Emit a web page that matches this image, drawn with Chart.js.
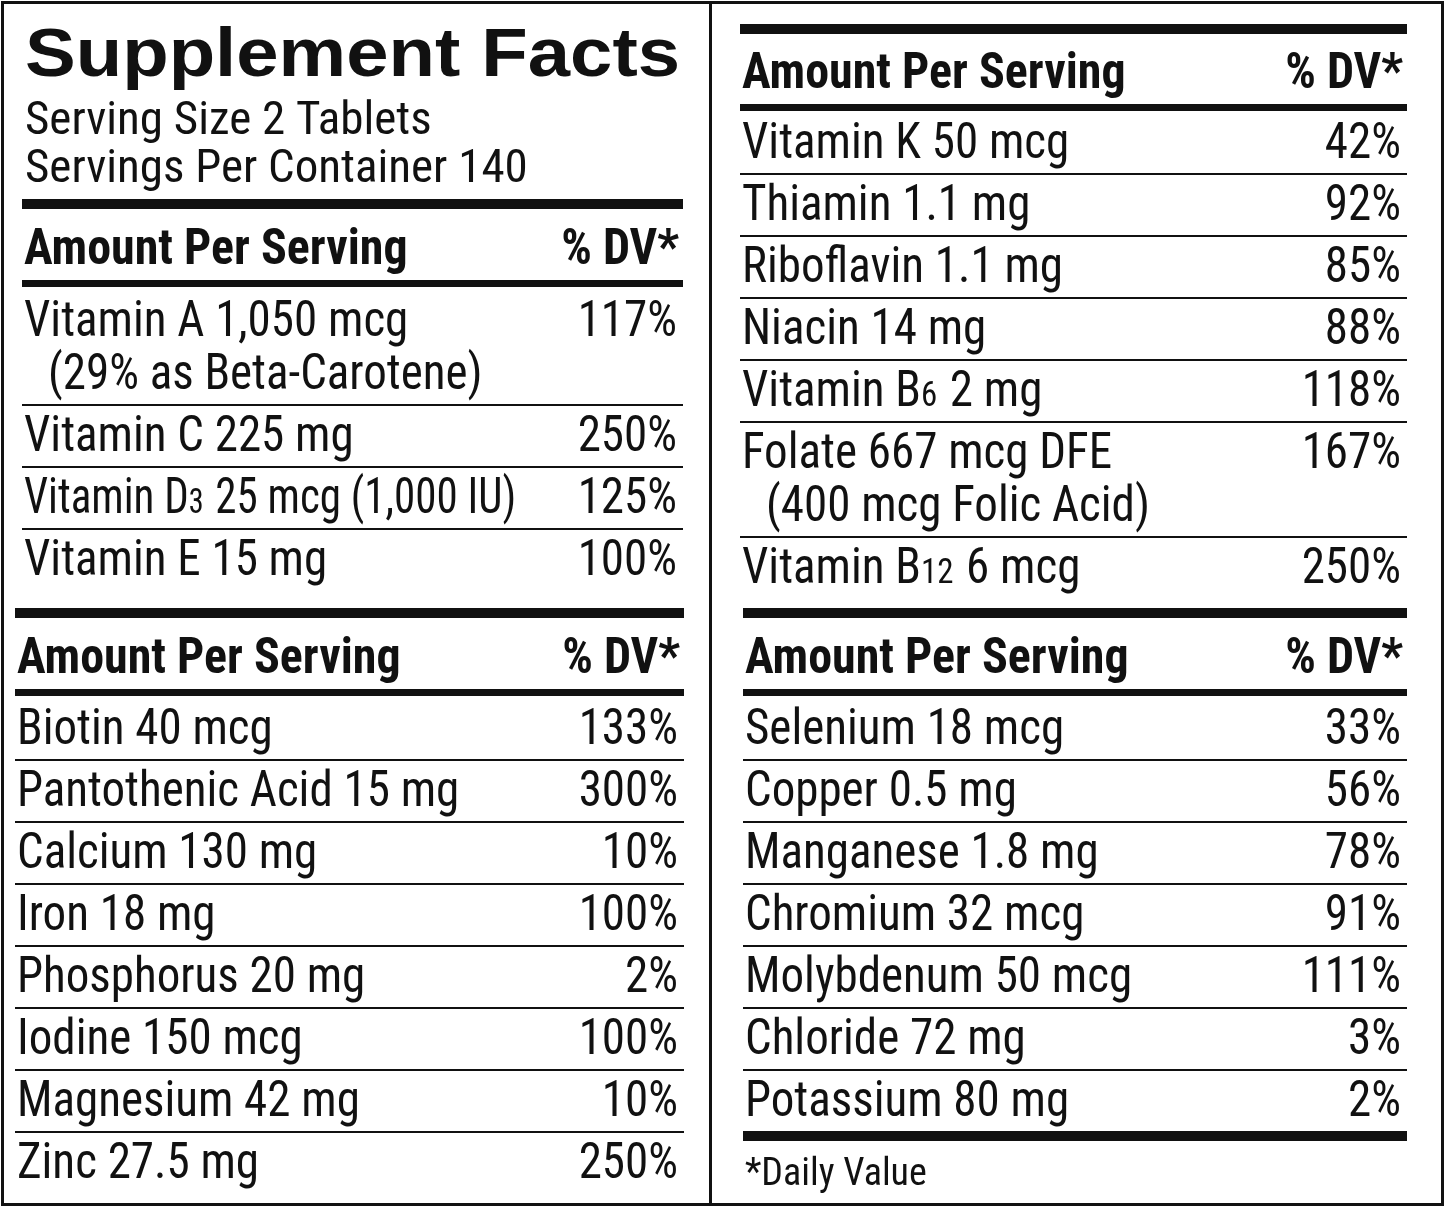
<!DOCTYPE html>
<html><head><meta charset="utf-8">
<script src="https://cdn.jsdelivr.net/npm/chart.js@4/dist/chart.umd.min.js"></script>
<style>html,body{margin:0;padding:0;background:#fff}</style>
</head><body>
<canvas id="c" width="1445" height="1207"></canvas>
<script>
const title = "Supplement Facts";
const servingLines = ["Serving Size 2 Tablets", "Servings Per Container 140"];
const headerLeft = "Amount Per Serving";
const headerRight = "% DV*";
const vitaminsA = ["Vitamin A 1,050 mcg|(29% as Beta-Carotene)", "Vitamin C 225 mg", "Vitamin D_3_ 25 mcg (1,000 IU)", "Vitamin E 15 mg"];
const vitaminsAdv = ["117%", "250%", "125%", "100%"];
const vitaminsB = ["Vitamin K 50 mcg", "Thiamin 1.1 mg", "Riboflavin 1.1 mg", "Niacin 14 mg", "Vitamin B_6_ 2 mg", "Folate 667 mcg DFE|(400 mcg Folic Acid)", "Vitamin B_12_ 6 mcg"];
const vitaminsBdv = ["42%", "92%", "85%", "88%", "118%", "167%", "250%"];
const mineralsA = ["Biotin 40 mcg", "Pantothenic Acid 15 mg", "Calcium 130 mg", "Iron 18 mg", "Phosphorus 20 mg", "Iodine 150 mcg", "Magnesium 42 mg", "Zinc 27.5 mg"];
const mineralsAdv = ["133%", "300%", "10%", "100%", "2%", "100%", "10%", "250%"];
const mineralsB = ["Selenium 18 mcg", "Copper 0.5 mg", "Manganese 1.8 mg", "Chromium 32 mcg", "Molybdenum 50 mcg", "Chloride 72 mg", "Potassium 80 mg"];
const mineralsBdv = ["33%", "56%", "78%", "91%", "111%", "3%", "2%"];
const footnote = "*Daily Value";

const F = '"Liberation Sans Narrow","Roboto Condensed","DejaVu Sans Condensed",sans-serif';
const SX = 0.94;

function drawRich(ctx, s, x, y, size, sx, compact) {
  ctx.save();
  ctx.translate(x, y); ctx.scale(sx, 1);
  const parts = s.split('_');
  let cx = 0;
  parts.forEach((p, i) => {
    const sub = i % 2 === 1;
    ctx.font = (sub ? size * 0.7 : size) + 'px ' + F;
    ctx.fillText(p, cx, 0);
    cx += ctx.measureText(p).width + (sub ? 2 : 0);
  });
  ctx.restore();
}
function drawRight(ctx, s, x, y, font, sx) {
  ctx.save();
  ctx.translate(x, y); ctx.scale(sx, 1);
  ctx.font = font; ctx.textAlign = 'right';
  ctx.fillText(s, 0, 0);
  ctx.restore();
}

function section(ctx, o) {
  const {x0, x1, names, dvs, headerY, startY, rowH, topBar} = o;
  ctx.fillStyle = '#111';
  ctx.fillRect(x0, topBar, x1 - x0, 10);
  ctx.textAlign = 'left';
  ctx.save(); ctx.translate(x0 + 2, headerY); ctx.scale(0.96, 1);
  ctx.font = 'bold 50px ' + F; ctx.fillText(headerLeft, 0, 0); ctx.restore();
  drawRight(ctx, headerRight, x1 - 4, headerY, 'bold 50px ' + F, 0.96);
  ctx.fillRect(x0, headerY + 16, x1 - x0, 7);
  let y = startY;
  names.forEach((n, i) => {
    const lines = n.split('|');
    ctx.textAlign = 'left';
    const sx = n.indexOf('1,000 IU') >= 0 ? 0.86 : SX;
    drawRich(ctx, lines[0], x0 + 2, y, 50, sx);
    drawRight(ctx, dvs[i], x1 - 6, y, '50px ' + F, SX);
    for (let k = 1; k < lines.length; k++) { y += 53; drawRich(ctx, lines[k], x0 + 26, y, 50, SX); }
    if (i < names.length - 1) ctx.fillRect(x0, y + 15, x1 - x0, 2);
    y += rowH;
  });
}

const tablePlugin = {
  id: 'table',
  afterDraw(chart) {
    const ctx = chart.ctx;
    ctx.save();
    ctx.fillStyle = '#fff'; ctx.fillRect(0, 0, 1445, 1207);
    ctx.strokeStyle = '#111'; ctx.lineWidth = 3;
    ctx.strokeRect(2.5, 2.5, 1440, 1202);
    ctx.fillStyle = '#111';
    ctx.fillRect(709, 3, 3, 1201);
    ctx.textBaseline = 'alphabetic';
    ctx.textAlign = 'left';
    ctx.font = 'bold 68px "Liberation Sans","DejaVu Sans",sans-serif';
    const tw = ctx.measureText(title).width;
    ctx.save(); ctx.translate(25, 76); ctx.scale(655 / tw, 1); ctx.fillText(title, 0, 0); ctx.restore();
    ctx.save(); ctx.translate(25, 134); ctx.scale(1.0, 1);
    ctx.font = '47px ' + F;
    ctx.fillText(servingLines[0], 0, 0);
    ctx.fillText(servingLines[1], 0, 48);
    ctx.restore();
    section(ctx, {x0: 22, x1: 683, names: vitaminsA, dvs: vitaminsAdv, topBar: 199, headerY: 264, startY: 336, rowH: 62});
    section(ctx, {x0: 740, x1: 1407, names: vitaminsB, dvs: vitaminsBdv, topBar: 24, headerY: 88, startY: 158, rowH: 62});
    section(ctx, {x0: 15, x1: 684, names: mineralsA, dvs: mineralsAdv, topBar: 608, headerY: 673, startY: 744, rowH: 62});
    section(ctx, {x0: 743, x1: 1407, names: mineralsB, dvs: mineralsBdv, topBar: 608, headerY: 673, startY: 744, rowH: 62});
    ctx.fillRect(743, 1131, 664, 10);
    ctx.textAlign = 'left';
    ctx.font = '38px ' + F;
    ctx.fillText(footnote, 745, 1185);
    ctx.restore();
  }
};

new Chart(document.getElementById('c'), {
  type: 'bar',
  data: { labels: vitaminsA.concat(vitaminsB, mineralsA, mineralsB), datasets: [{ data: [], backgroundColor: 'transparent' }] },
  options: { responsive: false, animation: false, devicePixelRatio: 1,
    plugins: { legend: { display: false }, tooltip: { enabled: false } },
    scales: { x: { display: false }, y: { display: false } } },
  plugins: [tablePlugin]
});
</script>
</body></html>
